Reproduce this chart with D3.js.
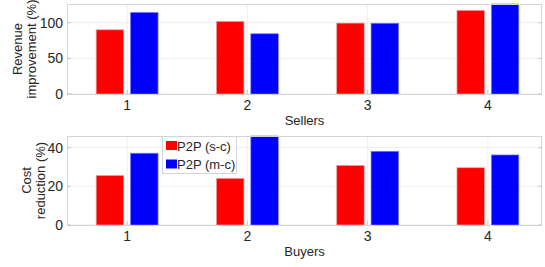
<!DOCTYPE html>
<html><head><meta charset="utf-8">
<script src="https://cdn.jsdelivr.net/npm/d3@7"></script>
<style>body{margin:0;background:#fff}svg{font-family:"Liberation Sans",Arial,sans-serif}</style>
</head><body><svg id="c" width="545" height="267"></svg>
<script>
const categories = [1, 2, 3, 4];
const seriesNames = ["P2P (s-c)", "P2P (m-c)"];
const seriesColors = ["#ff0000", "#0000ff"];
const sellersSC = [90.1, 101.9, 99.5, 117.4];
const sellersMC = [114.5, 84.5, 99.3, 126.3];
const buyersSC = [25.6, 24.1, 30.8, 29.6];
const buyersMC = [37.1, 46.0, 38.1, 36.2];
const topTicks = [0, 50, 100];
const bottomTicks = [0, 20, 40];

const svg = d3.select("#c");
const L = 67, R = 542;
const x = d3.scaleLinear().domain([0.5, 4.45]).range([L, R]);
const barW = 0.2286, off = 0.1429;

function panel(top, bottom, sc, mc, ticks, ymax, xlabel, ylabels, ylabelX, legend) {
  const y = d3.scaleLinear().domain([0, ymax]).range([bottom, top]);
  const g = svg.append("g");
  g.selectAll(".gy").data(ticks).join("line")
    .attr("x1", L).attr("x2", R).attr("y1", d => y(d)).attr("y2", d => y(d))
    .attr("stroke", "#efefef").attr("stroke-width", 1);
  g.selectAll(".gx").data(categories).join("line")
    .attr("x1", d => x(d)).attr("x2", d => x(d)).attr("y1", top).attr("y2", bottom)
    .attr("stroke", "#efefef").attr("stroke-width", 1);
  [sc, mc].forEach((vals, si) => {
    g.selectAll(".b" + si).data(vals).join("rect")
      .attr("x", (d, i) => x(categories[i] + (si ? off : -off) - barW / 2))
      .attr("width", x(barW) - x(0))
      .attr("y", d => y(d)).attr("height", d => y(0) - y(d))
      .attr("fill", seriesColors[si])
      .attr("stroke", si ? "#7a7aff" : "#e8a0a0").attr("stroke-width", 0.7);
  });
  g.append("rect").attr("x", L + 0.5).attr("y", top + 0.5)
    .attr("width", R - L - 1).attr("height", bottom - top)
    .attr("fill", "none").attr("stroke", "#d4d4d4").attr("stroke-width", 1);
  g.selectAll(".ty").data(ticks).join("line")
    .attr("x1", L).attr("x2", L + 4).attr("y1", d => y(d)).attr("y2", d => y(d))
    .attr("stroke", "#c8c8c8");
  g.selectAll(".ty2").data(ticks).join("line")
    .attr("x1", R - 4).attr("x2", R).attr("y1", d => y(d)).attr("y2", d => y(d))
    .attr("stroke", "#c8c8c8");
  g.selectAll(".tx").data(categories).join("line")
    .attr("x1", d => x(d)).attr("x2", d => x(d)).attr("y1", bottom).attr("y2", bottom - 4)
    .attr("stroke", "#c8c8c8");
  g.selectAll(".tyl").data(ticks).join("text")
    .attr("x", L - 4).attr("y", d => y(d) + 5)
    .attr("text-anchor", "end").attr("font-size", 14).attr("fill", "#262626")
    .text(d => d);
  g.selectAll(".txl").data(categories).join("text")
    .attr("x", d => x(d)).attr("y", bottom + 16)
    .attr("text-anchor", "middle").attr("font-size", 14).attr("fill", "#262626")
    .text(d => d);
  g.append("text").attr("x", (L + R) / 2).attr("y", bottom + 31)
    .attr("text-anchor", "middle").attr("font-size", 13).attr("fill", "#262626").text(xlabel);
  const cy = (top + bottom) / 2;
  ylabels.forEach((t, i) => {
    g.append("text").attr("transform", `translate(${ylabelX[i]},${cy}) rotate(-90)`)
      .attr("text-anchor", "middle").attr("font-size", 13).attr("fill", "#262626").text(t);
  });
  if (legend) {
    const lg = svg.append("g");
    lg.append("rect").attr("x", 162.5).attr("y", 136.5).attr("width", 74).attr("height", 37)
      .attr("fill", "#fff").attr("stroke", "#d4d4d4");
    seriesNames.forEach((n, i) => {
      lg.append("rect").attr("x", 166).attr("y", 141 + i * 18.5).attr("width", 11).attr("height", 9)
        .attr("fill", seriesColors[i]);
      lg.append("text").attr("x", 177).attr("y", 150.5 + i * 18.5)
        .attr("font-size", 13).attr("fill", "#262626").text(n);
    });
  }
}
panel(4, 94, sellersSC, sellersMC, topTicks, 126.3, "Sellers", ["Revenue", "improvement (%)"], [22, 36], false);
panel(136, 225, buyersSC, buyersMC, bottomTicks, 46.0, "Buyers", ["Cost", "reduction (%)"], [31, 45], true);
</script></body></html>
